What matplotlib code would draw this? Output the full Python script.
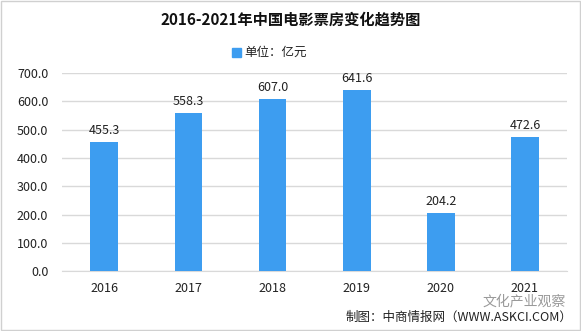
import matplotlib
matplotlib.use("Agg")
import matplotlib.pyplot as plt
from matplotlib.patches import Rectangle

plt.rcParams['font.family'] = ['Noto Sans CJK SC', 'DejaVu Sans']

years = ["2016", "2017", "2018", "2019", "2020", "2021"]
box_office = [455.3, 558.3, 607.0, 641.6, 204.2, 472.6]
yticks = [0, 100, 200, 300, 400, 500, 600, 700]

BAR = "#3d9df0"
GRID = "#d9d9d9"

fig = plt.figure(figsize=(5.81, 3.31), dpi=100)
ax = fig.add_axes([0.107, 0.181, 0.869, 0.598])

x = range(len(years))
ax.bar(x, box_office, width=0.33, color=BAR, zorder=3)
for xi, v in zip(x, box_office):
    ax.text(xi, v + 18, f"{v:.1f}", ha="center", va="bottom", fontsize=9, color="#222222")

ax.set_xlim(-0.5, len(years) - 0.5)
ax.set_ylim(0, 700)
ax.set_yticks(yticks)
ax.set_yticklabels([f"{t:.1f}" for t in yticks], fontsize=9)
ax.set_xticks(list(x))
ax.set_xticklabels(years, fontsize=9)
ax.grid(axis="y", color=GRID, linewidth=1, zorder=0)
for s in ["top", "right", "left"]:
    ax.spines[s].set_visible(False)
ax.spines["bottom"].set_color(GRID)
ax.tick_params(length=0, pad=8, colors="#222222")
ax.tick_params(axis="y", pad=10)

fig.text(0.5, 0.94, "2016-2021年中国电影票房变化趋势图", ha="center", va="center",
         fontsize=11, fontweight="bold", color="#111111")
fig.patches.append(Rectangle((0.4, 0.828), 0.014, 0.026, transform=fig.transFigure,
                             color=BAR, figure=fig))
fig.text(0.42, 0.841, "单位：亿元", ha="left", va="center", fontsize=9, color="#222222")

fig.text(0.83, 0.088, "文化产业观察", ha="left", va="center", fontsize=10, color="#9a9a9a")
fig.text(0.595, 0.042, "制图：中商情报网（WWW.ASKCI.COM）", ha="left", va="center",
         fontsize=9, color="#222222")

fig.patches.append(Rectangle((0.002, 0.003), 0.996, 0.994, transform=fig.transFigure,
                             fill=False, edgecolor="#d0d0d0", linewidth=1, figure=fig))

fig.savefig("out.png", dpi=100)
